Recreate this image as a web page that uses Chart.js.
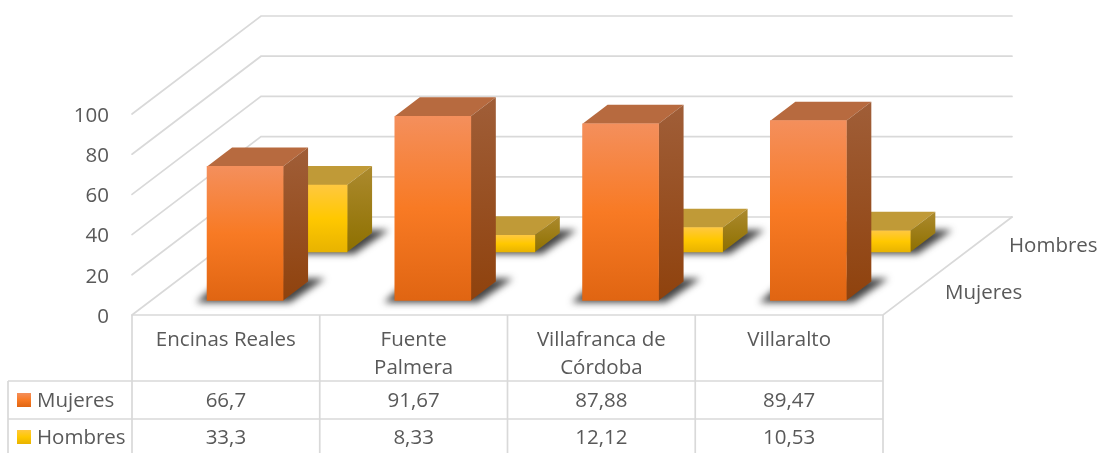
<!DOCTYPE html>
<html><head><meta charset="utf-8">
<style>html,body{margin:0;padding:0;background:#fff}#w{width:1098px;height:453px;position:relative;overflow:hidden}</style>
<script src="https://cdn.jsdelivr.net/npm/chart.js@4"></script>
</head><body><div id="w"><canvas id="c" width="1098" height="453"></canvas></div>
<script>
const categories = [['Encinas Reales'], ['Fuente','Palmera'], ['Villafranca de','Córdoba'], ['Villaralto']];
const mujeres = [66.7, 91.67, 87.88, 89.47];
const hombres = [33.3, 8.33, 12.12, 10.53];
const seriesNames = ['Mujeres', 'Hombres'];
const yTicks = [0, 20, 40, 60, 80, 100];

const FONT = '"Open Sans", sans-serif', TXT = '#595959', LINE = '#D9D9D9';
const FS = 20.5;
const DEPTH = {dx: 129, dy: -98};
const BAR = {dx: 25, dy: -19, w: 76};
const ROW = [{dx: 19.2, dy: -14.5}, {dx: 83.2, dy: -63}];
const PAL = [
  {front: ['#F48F5C', '#F87A24', '#E06512'], top: '#B76A3F', side: ['#A05E38', '#8F420D'], shadow: 'rgba(35,35,35,.85)'},
  {front: ['#FFC83F', '#FFC800', '#E8B300'], top: '#C09A37', side: ['#AC8A2E', '#8E7000'], shadow: 'rgba(35,35,35,.85)'}
];
const grad = (c, y0, y1, stops) => {
  const g = c.createLinearGradient(0, y0, 0, y1);
  stops.forEach((s, i) => g.addColorStop(i / (stops.length - 1), s));
  return g;
};
const frontFill = idx => ctx => {
  if (ctx.type !== 'data') return PAL[idx].front[1];
  const y = ctx.chart.scales.y;
  const y0 = y.getPixelForValue(ctx.parsed.y), y1 = y.getPixelForValue(0);
  if (!isFinite(y0) || !isFinite(y1)) return PAL[idx].front[1];
  return grad(ctx.chart.ctx, y0, y1, PAL[idx].front);
};
const poly = (c, pts) => { c.beginPath(); pts.forEach((p, i) => i ? c.lineTo(p[0], p[1]) : c.moveTo(p[0], p[1])); c.closePath(); };

const walls = {
  id: 'walls',
  beforeDatasetsDraw(chart) {
    const c = chart.ctx, y = chart.scales.y, a = chart.chartArea;
    c.save(); c.strokeStyle = LINE; c.lineWidth = 1.7; c.lineCap = 'round';
    yTicks.forEach(v => {
      const p = y.getPixelForValue(v);
      c.beginPath();
      c.moveTo(a.left, p);
      c.lineTo(a.left + DEPTH.dx, p + DEPTH.dy);
      c.lineTo(a.right + DEPTH.dx, p + DEPTH.dy);
      c.stroke();
    });
    const p0 = y.getPixelForValue(0);
    c.beginPath();
    c.moveTo(a.left, p0); c.lineTo(a.right, p0); c.lineTo(a.right + DEPTH.dx, p0 + DEPTH.dy);
    c.stroke();
    c.restore();
  }
};

const bars3d = {
  id: 'bars3d',
  beforeDatasetDraw(chart, args) {
    const c = chart.ctx, i = args.index, pal = PAL[i], r = ROW[i];
    c.save();
    c.translate(r.dx, r.dy);
    args.meta.data.forEach(b => {
      const x0 = b.x - BAR.w / 2, x1 = b.x + BAR.w / 2, t = b.y, base = b.base;
      c.save();
      c.filter = 'blur(3.5px)';
      c.fillStyle = pal.shadow;
      poly(c, [[x0 - 11, base + 2], [x1 + 7, base + 2], [x1 + 42, base - 22], [x0 + 16, base - 22]]);
      c.fill();
      c.restore();
      c.fillStyle = pal.top;
      poly(c, [[x0, t], [x1, t], [x1 + BAR.dx, t + BAR.dy], [x0 + BAR.dx, t + BAR.dy]]);
      c.fill();
      c.fillStyle = grad(c, t + BAR.dy, base, pal.side);
      poly(c, [[x1, t], [x1 + BAR.dx, t + BAR.dy], [x1 + BAR.dx, base + BAR.dy], [x1, base]]);
      c.fill();
    });
  },
  afterDatasetDraw(chart) { chart.ctx.restore(); }
};

const table = {
  id: 'table',
  afterDraw(chart) {
    const c = chart.ctx, a = chart.chartArea, x = chart.scales.x;
    const rowTop = [381, 419], mid = [400, 437], H = chart.height, L = 8, TO = 1;
    const colW = (a.right - a.left) / categories.length;
    c.save();
    c.strokeStyle = LINE; c.lineWidth = 1.7;
    c.beginPath();
    for (let k = 0; k <= categories.length; k++) {
      const px = a.left + colW * k;
      c.moveTo(px, a.bottom); c.lineTo(px, H);
    }
    c.moveTo(L, rowTop[0]); c.lineTo(L, H);
    rowTop.forEach(v => { c.moveTo(L, v); c.lineTo(a.right, v); });
    c.stroke();
    c.font = FS + 'px ' + FONT; c.fillStyle = TXT; c.textBaseline = 'middle';
    [mujeres, hombres].forEach((vals, r) => {
      c.textAlign = 'left'; c.fillStyle = TXT;
      c.fillText(seriesNames[r], 37, mid[r] + TO);
      c.fillStyle = grad(c, mid[r] - 7, mid[r] + 7, PAL[r].front);
      c.fillRect(17, mid[r] - 7, 14, 14);
      c.textAlign = 'center'; c.fillStyle = TXT;
      vals.forEach((v, k) => c.fillText(String(v).replace('.', ','), x.getPixelForValue(k), mid[r] + TO));
    });
    c.textAlign = 'left';
    c.fillText(seriesNames[0], 945, 292 + TO);
    c.fillText(seriesNames[1], 1009, 245 + TO);
    c.restore();
  }
};

new Chart(document.getElementById('c'), {
  type: 'bar',
  plugins: [walls, bars3d, table],
  data: {
    labels: categories,
    datasets: [
      {label: seriesNames[0], data: mujeres, backgroundColor: frontFill(0), order: 0, clip: false},
      {label: seriesNames[1], data: hombres, backgroundColor: frontFill(1), order: 1, clip: false}
    ]
  },
  options: {
    responsive: false, animation: false,
    devicePixelRatio: 1,
    datasets: {bar: {grouped: false, barThickness: BAR.w}},
    layout: {padding: {top: 114, right: 215, left: 0, bottom: 0}},
    plugins: {legend: {display: false}, tooltip: {enabled: false}},
    scales: {
      x: {
        grid: {display: false, drawTicks: false}, border: {display: false},
        afterFit(s) { s.height = 138; },
        ticks: {autoSkip: false, maxRotation: 0, minRotation: 0, padding: 11, color: TXT, font: {family: FONT, size: FS, lineHeight: 1.37}}
      },
      y: {
        min: 0, max: 100,
        grid: {display: false, drawTicks: false}, border: {display: false},
        afterFit(s) { s.width = 132; },
        afterBuildTicks(s) { s.ticks = yTicks.map(v => ({value: v})); },
        ticks: {padding: 23, labelOffset: 2, color: TXT, font: {family: FONT, size: FS}}
      }
    }
  }
});
</script></body></html>
